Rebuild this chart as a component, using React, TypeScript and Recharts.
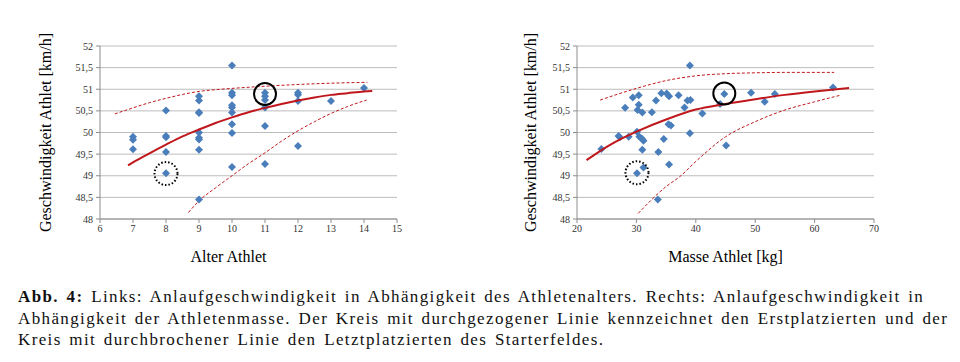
import {
  ScatterChart,
  Scatter,
  XAxis,
  YAxis,
  CartesianGrid,
  ReferenceDot,
  Label,
} from "recharts";

// Links: Alter
const ageX = [7, 7, 7, 8, 8, 8, 8, 8, 9, 9, 9, 9, 9, 9, 9, 9, 9, 10, 10, 10, 10, 10, 10, 10, 10, 10, 11, 11, 11, 11, 11, 11, 12, 12, 12, 12, 13, 14];
const ageSpeed = [49.9, 49.83, 49.61, 50.51, 49.92, 49.89, 49.55, 49.06, 50.84, 50.74, 50.47, 50.45, 50.0, 49.88, 49.84, 49.6, 48.45, 51.55, 50.92, 50.86, 50.63, 50.58, 50.46, 50.19, 49.99, 49.2, 50.92, 50.84, 50.75, 50.58, 50.15, 49.27, 50.92, 50.87, 50.73, 49.69, 50.73, 51.03];

const ageTrendX = [6.85, 7, 7.5, 8, 8.5, 9, 9.5, 10, 10.5, 11, 11.5, 12, 12.5, 13, 13.5, 14, 14.25];
const ageTrendY = [49.24, 49.31, 49.52, 49.72, 49.91, 50.07, 50.22, 50.35, 50.47, 50.57, 50.66, 50.74, 50.81, 50.87, 50.91, 50.95, 50.96];
const ageUpperX = [6.45, 7, 7.5, 8, 8.5, 9, 9.5, 10, 11, 12, 13, 14.1];
const ageUpperY = [50.43, 50.57, 50.69, 50.79, 50.88, 50.95, 50.99, 51.02, 51.07, 51.11, 51.14, 51.16];
const ageLowerX = [8.68, 9, 9.5, 10, 10.5, 11, 11.5, 12, 12.5, 13, 13.5, 14.08];
const ageLowerY = [48.15, 48.42, 48.72, 49.0, 49.28, 49.53, 49.8, 50.04, 50.25, 50.44, 50.6, 50.75];

// Rechts: Masse
const massX = [24.1, 27.0, 27.2, 28.1, 28.7, 29.4, 30.1, 30.4, 30.4, 30.2, 30.5, 30.9, 31.2, 31.0, 31.0, 30.1, 31.2, 32.6, 33.3, 33.7, 33.6, 34.2, 34.6, 35.1, 35.5, 35.4, 35.8, 35.5, 37.1, 38.1, 38.6, 39.1, 39.0, 39.0, 41.1, 44.1, 44.8, 45.1, 49.3, 51.6, 53.3, 63.1];
const massSpeed = [49.62, 49.92, 49.89, 50.57, 49.9, 50.81, 50.02, 50.86, 50.64, 50.52, 49.9, 49.86, 49.81, 50.46, 49.6, 49.06, 49.19, 50.47, 50.74, 49.55, 48.45, 50.91, 49.85, 50.9, 50.84, 50.19, 50.16, 49.26, 50.86, 50.58, 50.74, 50.75, 51.55, 49.98, 50.44, 50.66, 50.89, 49.7, 50.92, 50.71, 50.89, 51.04];

const massTrendX = [21.6, 25, 27.5, 30, 35, 40, 45, 50, 55, 60, 65.8];
const massTrendY = [49.36, 49.67, 49.86, 50.02, 50.3, 50.53, 50.66, 50.77, 50.87, 50.95, 51.03];
const massUpperX = [23.9, 30, 35, 40, 45, 50, 55, 63.3];
const massUpperY = [50.75, 51.02, 51.2, 51.31, 51.36, 51.38, 51.39, 51.39];
const massLowerX = [30.3, 35, 37.3, 40, 45, 50, 55, 60, 64.3];
const massLowerY = [48.13, 48.75, 48.98, 49.33, 49.9, 50.25, 50.52, 50.71, 50.86];

const ageTicks = [6, 7, 8, 9, 10, 11, 12, 13, 14, 15];
const massTicks = [20, 30, 40, 50, 60, 70];
const speedTicks = [48, 48.5, 49, 49.5, 50, 50.5, 51, 51.5, 52];

const firstAge = { x: 11, y: 50.89 };
const lastAge = { x: 8, y: 49.05 };
const firstMass = { x: 44.8, y: 50.9 };
const lastMass = { x: 30.1, y: 49.07 };

const zip = (xs: number[], ys: number[]) => xs.map((x, i) => ({ x, y: ys[i] }));

const BLUE = "#4a7ebb";
const RED = "#c0171c";
const FONT = "'Liberation Serif', 'Times New Roman', serif";

const Diamond = (props: any) => {
  const { cx, cy } = props;
  if (cx == null || cy == null) return null;
  const r = 4;
  return (
    <path
      d={`M${cx},${cy - r}L${cx + r},${cy}L${cx},${cy + r}L${cx - r},${cy}Z`}
      fill={BLUE}
    />
  );
};

const NoShape = () => null;

const fmt = (v: number) => String(v).replace(".", ",");

interface PanelProps {
  points: { x: number; y: number }[];
  trend: { x: number; y: number }[];
  upper: { x: number; y: number }[];
  lower: { x: number; y: number }[];
  domain: [number, number];
  ticks: number[];
  xLabel: string;
  xLabelDx: number;
  yAxisWidth: number;
  rightMargin: number;
  yLabelDx: number;
  first: { x: number; y: number };
  last: { x: number; y: number };
}

function Panel({
  points,
  trend,
  upper,
  lower,
  domain,
  ticks,
  xLabel,
  xLabelDx,
  yAxisWidth,
  rightMargin,
  yLabelDx,
  first,
  last,
}: PanelProps) {
  return (
    <ScatterChart
      width={420}
      height={270}
      margin={{ top: 46, right: rightMargin, bottom: 21, left: 0 }}
    >
      <CartesianGrid vertical={false} stroke="#bcbcbc" />
      <XAxis
        type="number"
        dataKey="x"
        domain={domain}
        ticks={ticks}
        interval={0}
        height={30}
        tickSize={4}
        tickMargin={2}
        stroke="#8c8c8c"
        tick={{ fill: "#333", fontSize: 10, fontFamily: FONT }}
      >
        <Label
          value={xLabel}
          position="bottom"
          offset={2}
          dx={xLabelDx}
          style={{ fontSize: 16, fontFamily: FONT, fill: "#000" }}
        />
      </XAxis>
      <YAxis
        type="number"
        dataKey="y"
        domain={[48, 52]}
        ticks={speedTicks}
        interval={0}
        width={yAxisWidth}
        tickSize={4}
        tickMargin={3}
        tickFormatter={fmt}
        stroke="#8c8c8c"
        tick={{ fill: "#333", fontSize: 10, fontFamily: FONT }}
      >
        <Label
          value="Geschwindigkeit Athlet [km/h]"
          angle={-90}
          position="center"
          dx={yLabelDx}
          style={{ fontSize: 16, fontFamily: FONT, fill: "#000", textAnchor: "middle" }}
        />
      </YAxis>
      <Scatter
        data={upper}
        shape={NoShape}
        line={{ stroke: RED, strokeWidth: 1, strokeDasharray: "3 2" }}
        lineJointType="monotoneX"
        isAnimationActive={false}
        legendType="none"
      />
      <Scatter
        data={lower}
        shape={NoShape}
        line={{ stroke: RED, strokeWidth: 1, strokeDasharray: "3 2" }}
        lineJointType="monotoneX"
        isAnimationActive={false}
        legendType="none"
      />
      <Scatter
        data={points}
        shape={Diamond}
        isAnimationActive={false}
      />
      <Scatter
        data={trend}
        shape={NoShape}
        line={{ stroke: RED, strokeWidth: 2 }}
        lineJointType="monotoneX"
        isAnimationActive={false}
        legendType="none"
      />
      <ReferenceDot
        x={first.x}
        y={first.y}
        r={11}
        fill="none"
        stroke="#000"
        strokeWidth={2}
      />
      <ReferenceDot
        x={last.x}
        y={last.y}
        r={11.5}
        fill="none"
        stroke="#000"
        strokeWidth={2}
        strokeDasharray="1.5 2"
      />
    </ScatterChart>
  );
}

export default function App() {
  return (
    <div
      style={{
        position: "absolute",
        left: 0,
        top: 0,
        width: 960,
        height: 362,
        background: "#fff",
        fontFamily: FONT,
        overflow: "hidden",
      }}
    >
      <div style={{ position: "absolute", left: 0, top: 0 }}>
        <Panel
          points={zip(ageX, ageSpeed)}
          trend={zip(ageTrendX, ageTrendY)}
          upper={zip(ageUpperX, ageUpperY)}
          lower={zip(ageLowerX, ageLowerY)}
          domain={[6, 15]}
          ticks={ageTicks}
          xLabel="Alter Athlet"
          xLabelDx={-20}
          yAxisWidth={100}
          rightMargin={23}
          yLabelDx={-5}
          first={firstAge}
          last={lastAge}
        />
      </div>
      <div style={{ position: "absolute", left: 480, top: 0 }}>
        <Panel
          points={zip(massX, massSpeed)}
          trend={zip(massTrendX, massTrendY)}
          upper={zip(massUpperX, massUpperY)}
          lower={zip(massLowerX, massLowerY)}
          domain={[20, 70]}
          ticks={massTicks}
          xLabel="Masse Athlet [kg]"
          xLabelDx={0}
          yAxisWidth={97}
          rightMargin={26}
          yLabelDx={1.5}
          first={firstMass}
          last={lastMass}
        />
      </div>
      <div
        style={{
          position: "absolute",
          left: 18,
          top: 286,
          fontSize: 17,
          lineHeight: "21.5px",
          letterSpacing: "1.38px",
          wordSpacing: "2px",
          color: "#111",
          whiteSpace: "nowrap",
        }}
      >
        <div>
          <b>Abb. 4:</b> Links: Anlaufgeschwindigkeit in Abhängigkeit des Athletenalters. Rechts: Anlaufgeschwindigkeit in
        </div>
        <div>
          Abhängigkeit der Athletenmasse. Der Kreis mit durchgezogener Linie kennzeichnet den Erstplatzierten und der
        </div>
        <div>Kreis mit durchbrochener Linie den Letztplatzierten des Starterfeldes.</div>
      </div>
    </div>
  );
}
